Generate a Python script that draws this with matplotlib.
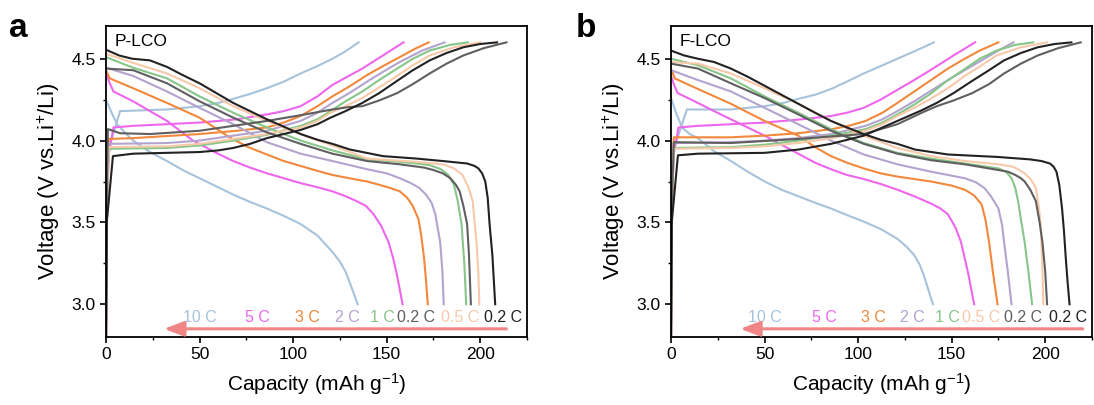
import matplotlib

matplotlib.use("Agg")

import matplotlib.pyplot as plt
from matplotlib.ticker import MultipleLocator, FormatStrFormatter

plt.rcParams.update(
    {
        "font.family": ["Liberation Sans", "DejaVu Sans"],
        "font.size": 12,
        "mathtext.fontset": "custom",
        "mathtext.rm": "Liberation Sans",
        "mathtext.it": "Liberation Sans:italic",
    }
)

# ---- curve order & colours ----
RATES = ["10 C", "5 C", "3 C", "2 C", "1 C", "0.5 C", "0.2 C (1st)", "0.2 C (last)"]
COLORS = ["#a7c3dc", "#ef66ee", "#f2883c", "#b3a3cf", "#86c688", "#f8c9a9", "#5f5f5f", "#222222"]

# ---- panel a: P-LCO  (capacity mAh/g, voltage V) ----
pa_10c_chg = ([0, 0.3, 1.0, 7.5, 20, 32.6, 50, 60, 68, 77, 86, 95, 104, 113, 121, 128, 135],
              [2.75, 3.5, 3.93, 4.18, 4.185, 4.19, 4.21, 4.23, 4.255, 4.285, 4.32, 4.36, 4.41, 4.455, 4.5, 4.545, 4.6])
pa_10c_dis = ([0, 3, 6, 10, 14.5, 23.5, 32.6, 41, 50, 59, 68, 77, 86, 95, 104, 113, 121, 125, 128, 131.5, 134.5],
              [4.25, 4.17, 4.1, 4.05, 4.0, 3.93, 3.875, 3.82, 3.77, 3.72, 3.67, 3.625, 3.585, 3.54, 3.49, 3.42, 3.32,
               3.26, 3.2, 3.095, 3.0])
pa_5c_chg = ([0, 0.4, 1.5, 4, 14.5, 50, 70, 86, 95, 104, 113, 121, 129, 137, 148, 159],
             [2.75, 3.6, 3.92, 4.08, 4.09, 4.11, 4.13, 4.16, 4.18, 4.21, 4.27, 4.34, 4.39, 4.44, 4.52, 4.6])
pa_5c_dis = ([0, 2, 4, 14.5, 23.5, 32.6, 46.5, 58, 68, 77, 86, 95, 104, 113, 121, 128, 134, 139, 143, 147, 151,
              153.5, 155.5, 157, 158.5],
             [4.41, 4.35, 4.3, 4.24, 4.18, 4.12, 4.0, 3.93, 3.875, 3.835, 3.8, 3.77, 3.74, 3.715, 3.69, 3.66, 3.63,
              3.6, 3.55, 3.48, 3.38, 3.28, 3.18, 3.09, 3.0])
pa_3c_chg = ([0, 0.4, 1.5, 14.5, 50, 70, 86, 95, 104, 113, 121, 130, 139.5, 148, 157, 165, 172.5],
             [2.75, 3.6, 4.01, 4.015, 4.04, 4.06, 4.08, 4.11, 4.15, 4.21, 4.27, 4.33, 4.4, 4.455, 4.51, 4.56, 4.6])
pa_3c_dis = ([0, 2, 14.5, 32.6, 50, 66, 76, 86, 95, 104, 113, 121, 130, 139.5, 146, 152, 157, 161, 164, 167,
              168.5, 170, 171, 172],
             [4.43, 4.38, 4.32, 4.23, 4.14, 4.02, 3.96, 3.915, 3.875, 3.845, 3.815, 3.79, 3.77, 3.75, 3.73, 3.71,
              3.69, 3.65, 3.6, 3.52, 3.42, 3.28, 3.15, 3.0])
pa_2c_chg = ([0, 0.4, 1.5, 32.6, 50, 68, 86, 95, 104, 113, 121, 130, 139.5, 148, 157, 169, 181],
             [2.75, 3.6, 3.98, 3.985, 4.0, 4.03, 4.06, 4.09, 4.12, 4.17, 4.23, 4.29, 4.36, 4.42, 4.48, 4.55, 4.6])
pa_2c_dis = ([0, 14.5, 32.6, 50, 68, 86, 104, 121, 139.5, 150, 157, 163, 167.5, 171, 174, 176, 178.6, 179.8, 180.5],
             [4.445, 4.395, 4.3, 4.2, 4.1, 3.99, 3.92, 3.875, 3.825, 3.8, 3.77, 3.74, 3.71, 3.67, 3.62, 3.55, 3.38,
              3.2, 3.0])
pa_1c_chg = ([0, 0.4, 1.5, 32.6, 50, 68, 86, 104, 113, 120, 128, 137, 146, 155.6, 164, 173, 184, 193.5],
             [2.75, 3.6, 3.95, 3.955, 3.97, 4.0, 4.035, 4.09, 4.13, 4.18, 4.24, 4.3, 4.37, 4.44, 4.5, 4.55, 4.585,
              4.6])
pa_1c_dis = ([0, 14.5, 32.6, 50, 68, 86, 104, 121, 139.5, 157, 166, 173, 179, 183, 186, 188, 190, 191.5, 192.5],
             [4.51, 4.445, 4.38, 4.27, 4.17, 4.08, 4.0, 3.94, 3.885, 3.87, 3.86, 3.85, 3.825, 3.79, 3.73, 3.63, 3.49,
              3.25, 3.0])
pa_05c_chg = ([0, 0.4, 1.5, 32.6, 50, 68, 86, 104, 113, 120, 128, 137, 146, 155.6, 164, 173, 186, 200],
              [2.75, 3.6, 3.96, 3.965, 3.98, 4.01, 4.04, 4.08, 4.12, 4.17, 4.21, 4.26, 4.325, 4.395, 4.46, 4.52,
               4.57, 4.6])
pa_05c_dis = ([0, 14.5, 32.6, 50, 68, 86, 104, 121, 139.5, 166, 180, 186, 190.5, 193.5, 196, 197, 198, 199, 199.5],
              [4.53, 4.475, 4.41, 4.32, 4.21, 4.12, 4.04, 3.97, 3.89, 3.87, 3.855, 3.83, 3.79, 3.72, 3.63, 3.5, 3.38,
               3.2, 3.0])
pa_02c1_chg = ([0, 0.4, 1.0, 7.5, 23.5, 50, 68, 86, 104, 121, 130, 137, 146, 155.6, 164, 173, 182, 191, 202, 214],
               [2.75, 3.6, 4.07, 4.045, 4.04, 4.06, 4.09, 4.12, 4.155, 4.19, 4.205, 4.21, 4.245, 4.29, 4.345, 4.41,
                4.47, 4.52, 4.565, 4.6])
pa_02c1_dis = ([0, 14.5, 32.6, 50, 68, 86, 104, 121, 139.5, 157, 170, 175, 180, 184, 187, 189, 191, 193, 194, 195],
               [4.44, 4.43, 4.35, 4.24, 4.14, 4.05, 3.98, 3.92, 3.875, 3.855, 3.835, 3.82, 3.8, 3.77, 3.73, 3.69,
                3.6, 3.49, 3.3, 3.0])
pa_02c2_chg = ([0, 0.4, 3.7, 14.5, 50, 60, 68, 77, 86, 95, 104, 113, 120, 128, 137, 146, 155.6, 164, 173, 182,
                191, 200, 209],
               [2.75, 3.5, 3.905, 3.92, 3.93, 3.94, 3.955, 3.98, 4.015, 4.04, 4.065, 4.1, 4.14, 4.18, 4.23, 4.29,
                4.365, 4.43, 4.49, 4.535, 4.57, 4.59, 4.6])
pa_02c2_dis = ([0, 7, 14, 23.5, 32.6, 41, 50, 59, 68, 77, 86, 95, 104, 113, 121, 130.5, 148, 166, 180, 193, 197,
                199, 201, 202.7, 204, 205, 206.5, 208],
               [4.555, 4.52, 4.5, 4.49, 4.45, 4.4, 4.35, 4.29, 4.23, 4.18, 4.13, 4.085, 4.04, 4.005, 3.98, 3.945,
                3.905, 3.89, 3.875, 3.86, 3.845, 3.83, 3.8, 3.75, 3.65, 3.49, 3.3, 3.0])

# ---- panel b: F-LCO ----
pb_10c_chg = ([0, 0.3, 1.0, 8.5, 20, 32, 50, 60, 68, 77, 85.5, 94, 103, 112, 121, 131, 140.5],
              [2.75, 3.5, 3.93, 4.19, 4.19, 4.19, 4.21, 4.23, 4.255, 4.28, 4.315, 4.36, 4.41, 4.455, 4.5, 4.55, 4.6])
pb_10c_dis = ([0, 3, 6, 10, 14.4, 23, 32, 41, 50, 59, 68, 77, 85.5, 94, 103, 112, 121, 126, 130, 133, 135, 137.5,
               140],
              [4.26, 4.16, 4.08, 4.04, 4.015, 3.935, 3.875, 3.81, 3.75, 3.7, 3.66, 3.62, 3.585, 3.545, 3.505, 3.46,
               3.4, 3.35, 3.3, 3.24, 3.18, 3.09, 3.0])
pb_5c_chg = ([0, 0.4, 1.5, 4, 14.4, 50, 70, 85.5, 94, 103, 112, 121, 130, 140, 151, 162.5],
             [2.75, 3.6, 3.92, 4.08, 4.09, 4.11, 4.13, 4.15, 4.17, 4.2, 4.25, 4.31, 4.37, 4.44, 4.52, 4.6])
pb_5c_dis = ([0, 2, 3.6, 14.4, 23, 32, 50, 68, 77, 85.5, 94, 103, 112, 121, 130, 139, 144, 148, 152, 155, 157, 159,
              160.5, 162],
             [4.395, 4.33, 4.29, 4.23, 4.18, 4.13, 4.03, 3.92, 3.865, 3.825, 3.79, 3.765, 3.735, 3.7, 3.66, 3.615,
              3.585, 3.55, 3.47, 3.38, 3.28, 3.18, 3.09, 3.0])
pb_3c_chg = ([0, 0.4, 1.5, 32, 50, 68, 86, 95, 104, 113, 121, 130, 139, 148, 157, 165, 175],
             [2.75, 3.6, 4.02, 4.02, 4.03, 4.045, 4.07, 4.09, 4.12, 4.17, 4.23, 4.3, 4.37, 4.44, 4.5, 4.55, 4.6])
pb_3c_dis = ([0, 2, 14.4, 32, 50, 68, 77, 85.5, 94, 103, 112, 121, 130, 139, 150, 157, 162, 166, 168, 170, 172,
              174.5],
             [4.44, 4.38, 4.315, 4.225, 4.12, 4.03, 3.96, 3.905, 3.865, 3.83, 3.8, 3.78, 3.765, 3.75, 3.725, 3.7,
              3.665, 3.61, 3.52, 3.38, 3.2, 3.0])
pb_2c_chg = ([0, 0.4, 1.5, 32, 50, 68, 86, 95, 104, 113, 121, 130, 139, 148, 157, 166, 175, 183],
             [2.75, 3.6, 3.985, 3.99, 4.0, 4.015, 4.04, 4.065, 4.09, 4.13, 4.18, 4.24, 4.305, 4.37, 4.43, 4.49, 4.55,
              4.6])
pb_2c_dis = ([0, 14.4, 32, 50, 68, 85.5, 103, 121, 139, 157, 163, 167.5, 171, 175, 177, 178, 180, 182],
             [4.43, 4.37, 4.3, 4.2, 4.1, 4.0, 3.915, 3.855, 3.81, 3.77, 3.745, 3.71, 3.66, 3.585, 3.48, 3.38, 3.2,
              3.0])
pb_1c_chg = ([0, 0.4, 1.5, 32, 50, 68, 86, 104, 113, 121, 130, 138, 147, 156, 165, 174, 184, 193.6],
             [2.75, 3.6, 3.955, 3.96, 3.975, 4.0, 4.03, 4.07, 4.11, 4.16, 4.22, 4.28, 4.36, 4.43, 4.5, 4.55, 4.585,
              4.6])
pb_1c_dis = ([0, 14.4, 32, 50, 68, 85.5, 103, 121, 139, 157, 175, 179, 182, 184, 185.5, 187, 189, 191, 193],
             [4.5, 4.46, 4.38, 4.27, 4.17, 4.07, 3.985, 3.925, 3.89, 3.86, 3.83, 3.81, 3.77, 3.71, 3.63, 3.52, 3.38,
              3.2, 3.0])
pb_05c_chg = ([0, 0.4, 1.5, 32, 50, 68, 86, 104, 113, 121, 130, 138, 148, 157, 166, 174, 187, 201],
              [2.75, 3.6, 3.95, 3.955, 3.965, 3.985, 4.015, 4.06, 4.1, 4.15, 4.2, 4.25, 4.32, 4.395, 4.46, 4.52, 4.57,
               4.6])
pb_05c_dis = ([0, 14.4, 32, 50, 68, 85.5, 103, 121, 139, 157, 175, 183, 189, 192.5, 195, 196.5, 197.5, 198.3, 199],
              [4.48, 4.47, 4.41, 4.32, 4.225, 4.12, 4.03, 3.955, 3.905, 3.875, 3.855, 3.84, 3.8, 3.76, 3.71, 3.6,
               3.49, 3.3, 3.0])
pb_02c1_chg = ([0, 0.4, 1.5, 32, 68, 103, 121, 134, 142, 151, 161, 170, 178, 187, 196, 207, 219],
               [2.75, 3.6, 3.99, 3.985, 4.01, 4.04, 4.1, 4.17, 4.21, 4.245, 4.29, 4.345, 4.41, 4.47, 4.52, 4.565,
                4.6])
pb_02c1_dis = ([0, 14.4, 32, 50, 68, 85.5, 103, 121, 139, 157, 175, 180, 184, 187, 189, 192, 195, 197, 198.5, 200,
                201],
               [4.47, 4.44, 4.35, 4.26, 4.16, 4.06, 3.98, 3.92, 3.88, 3.855, 3.82, 3.81, 3.79, 3.77, 3.75, 3.7, 3.63,
                3.5, 3.38, 3.2, 3.0])
pb_02c2_chg = ([0, 0.4, 3.7, 14.4, 50, 68, 85.5, 103, 113, 125, 134, 142, 151, 161, 170, 178, 187, 196, 205, 214],
               [2.75, 3.5, 3.91, 3.92, 3.925, 3.945, 3.98, 4.03, 4.08, 4.14, 4.185, 4.23, 4.29, 4.365, 4.43, 4.49,
                4.535, 4.57, 4.59, 4.6])
pb_02c2_dis = ([0, 7, 14.4, 23, 32, 41, 50, 59, 68, 77, 85.5, 94, 103, 112, 121, 130.5, 148, 174.5, 192, 198,
                202.5, 204.5, 206, 207.5, 209, 210, 211, 212, 213],
               [4.55, 4.52, 4.5, 4.48, 4.44, 4.39, 4.335, 4.28, 4.225, 4.17, 4.12, 4.08, 4.04, 4.005, 3.98, 3.945,
                3.915, 3.9, 3.885, 3.875, 3.86, 3.84, 3.81, 3.73, 3.585, 3.45, 3.28, 3.13, 3.0])

PA_CURVES = [
    (pa_10c_chg, pa_10c_dis), (pa_5c_chg, pa_5c_dis), (pa_3c_chg, pa_3c_dis),
    (pa_2c_chg, pa_2c_dis), (pa_1c_chg, pa_1c_dis), (pa_05c_chg, pa_05c_dis),
    (pa_02c1_chg, pa_02c1_dis), (pa_02c2_chg, pa_02c2_dis),
]
PB_CURVES = [
    (pb_10c_chg, pb_10c_dis), (pb_5c_chg, pb_5c_dis), (pb_3c_chg, pb_3c_dis),
    (pb_2c_chg, pb_2c_dis), (pb_1c_chg, pb_1c_dis), (pb_05c_chg, pb_05c_dis),
    (pb_02c1_chg, pb_02c1_dis), (pb_02c2_chg, pb_02c2_dis),
]

# rate labels along the bottom: (text, capacity position, colour index)
PA_LABELS = [("10 C", 50, 0), ("5 C", 81, 1), ("3 C", 107.5, 2), ("2 C", 129, 3),
             ("1 C", 147.5, 4), ("0.2 C", 165.5, 6), ("0.5 C", 189, 5), ("0.2 C", 212, 7)]
PB_LABELS = [("10 C", 50, 0), ("5 C", 82, 1), ("3 C", 108, 2), ("2 C", 129, 3),
             ("1 C", 147.5, 4), ("0.5 C", 166, 5), ("0.2 C", 188, 6), ("0.2 C", 212, 7)]
PA_ARROW = (214, 31)
PB_ARROW = (220, 37)


def draw_panel(ax, curves, labels, arrow, name):
    for (chg, dis), color in zip(curves, COLORS):
        ax.plot(chg[0], chg[1], color=color, lw=1.5, solid_joinstyle="round")
        ax.plot(dis[0], dis[1], color=color, lw=1.5, solid_joinstyle="round")

    for text, x, ci in labels:
        ax.text(x, 2.92, text, color=COLORS[ci], ha="center", va="center", fontsize=11.5)

    ax.annotate(
        "",
        xy=(arrow[1], 2.85),
        xytext=(arrow[0], 2.85),
        arrowprops=dict(arrowstyle="-|>,head_length=1.0,head_width=0.38",
                        color="#f08585", lw=2.2, shrinkA=0, shrinkB=0),
    )

    ax.text(0.02, 0.975, name, transform=ax.transAxes, ha="left", va="top", fontsize=12.5)
    ax.set_xlim(0, 225)
    ax.set_ylim(2.8, 4.7)
    ax.xaxis.set_major_locator(MultipleLocator(50))
    ax.xaxis.set_minor_locator(MultipleLocator(25))
    ax.yaxis.set_major_locator(MultipleLocator(0.5))
    ax.yaxis.set_minor_locator(MultipleLocator(0.25))
    ax.yaxis.set_major_formatter(FormatStrFormatter("%.1f"))
    ax.tick_params(which="major", direction="out", length=4, width=1.2, labelsize=12.5)
    ax.tick_params(which="minor", direction="out", length=2.5, width=1.0)
    for spine in ax.spines.values():
        spine.set_linewidth(1.3)
    ax.set_xlabel("Capacity (mAh g$^{-1}$)", fontsize=15, labelpad=6)
    ax.set_ylabel("Voltage (V vs.Li$^{+}$/Li)", fontsize=16, labelpad=7)


fig = plt.figure(figsize=(10.94, 4.05), dpi=100)
ax_a = fig.add_axes([106 / 1094, 68 / 405, 421 / 1094, 311 / 405])
ax_b = fig.add_axes([671 / 1094, 68 / 405, 421 / 1094, 311 / 405])

draw_panel(ax_a, PA_CURVES, PA_LABELS, PA_ARROW, "P-LCO")
draw_panel(ax_b, PB_CURVES, PB_LABELS, PB_ARROW, "F-LCO")

fig.text(9 / 1094, 1 - 37 / 405, "a", fontsize=24, fontweight="bold", ha="left", va="baseline")
fig.text(576 / 1094, 1 - 37 / 405, "b", fontsize=24, fontweight="bold", ha="left", va="baseline")

fig.savefig("out.png", dpi=100)
